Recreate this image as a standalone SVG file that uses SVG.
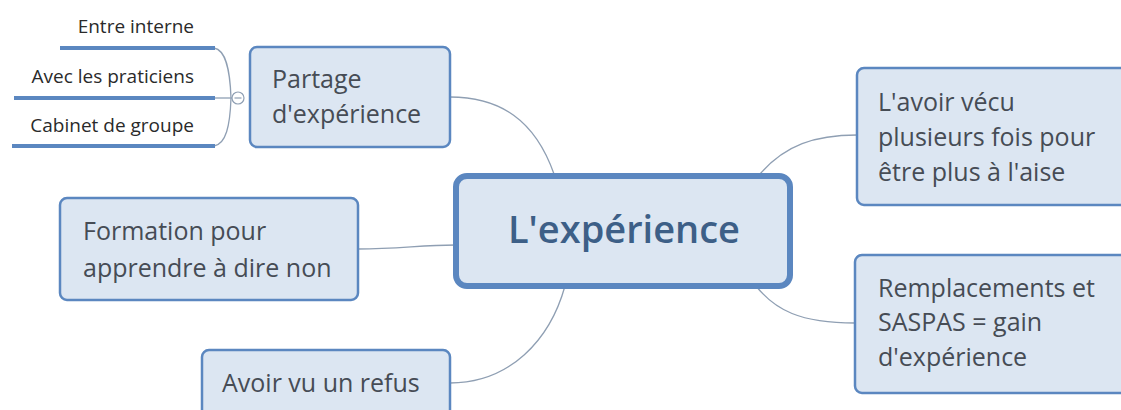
<svg xmlns="http://www.w3.org/2000/svg" width="1121" height="410" viewBox="0 0 1121 410">
<style>
.box{fill:#dce6f2;stroke:#5b87c0;stroke-width:2.5}
.main{fill:#dce6f2;stroke:#5b87c0;stroke-width:6}
.t{font-family:"Open Sans","Noto Sans",sans-serif;font-size:25px;fill:#464c55}
.s{font-family:"Open Sans","Noto Sans",sans-serif;font-size:19px;fill:#2a2a2a;text-anchor:end}
.c{fill:none;stroke:#8f9fb3;stroke-width:1.3}
.u{stroke:#5b87c0;stroke-width:4}
</style>
<rect width="1121" height="410" fill="#ffffff"/>
<g id="connectors">
<path class="c" d="M450,97 C500,97 535,120 554,174"/>
<path class="c" d="M358,249 C400,249 420,245 456,245"/>
<path class="c" d="M450,383 C510,383 550,340 565,286"/>
<path class="c" d="M760,174 C785,145 815,135 857,135"/>
<path class="c" d="M756,286 C775,310 800,323 855,323"/>
<path class="c" d="M214,48 C226,50 230,70 231,98 C230,126 226,144 214,146"/>
<path class="c" d="M214,98 L232,98"/>
</g>
<g id="sub-entre">
<line class="u" x1="60" y1="48" x2="215" y2="48"/>
<text class="s" x="194" y="33">Entre interne</text>
</g>
<g id="sub-avec">
<line class="u" x1="14" y1="98" x2="215" y2="98"/>
<text class="s" x="194" y="83">Avec les praticiens</text>
</g>
<g id="sub-cabinet">
<line class="u" x1="12" y1="146" x2="215" y2="146"/>
<text class="s" x="194" y="132">Cabinet de groupe</text>
</g>
<g id="collapse">
<circle cx="238" cy="98" r="6" fill="#ffffff" stroke="#8f9fb3" stroke-width="1.2"/>
<line x1="234.5" y1="98" x2="241.5" y2="98" stroke="#8f9fb3" stroke-width="1.2"/>
</g>
<g id="partage">
<rect class="box" x="250" y="47" width="200" height="100" rx="7"/>
<text class="t" x="272" y="88">Partage</text>
<text class="t" x="272" y="123">d'expérience</text>
</g>
<g id="central">
<rect class="main" x="456" y="176" width="334" height="110" rx="11"/>
<text x="624" y="243" text-anchor="middle" font-family="'Open Sans','Noto Sans',sans-serif" font-size="38" font-weight="600" fill="#3d5f87">L'expérience</text>
</g>
<g id="formation">
<rect class="box" x="60" y="198" width="298" height="102" rx="7"/>
<text class="t" x="83" y="240">Formation pour</text>
<text class="t" x="83" y="277">apprendre à dire non</text>
</g>
<g id="avoir-vu">
<rect class="box" x="202" y="350" width="248" height="80" rx="7"/>
<text class="t" x="222" y="392">Avoir vu un refus</text>
</g>
<g id="avoir-vecu">
<rect class="box" x="857" y="68" width="280" height="137" rx="7"/>
<text class="t" x="878" y="111">L'avoir vécu</text>
<text class="t" x="878" y="146">plusieurs fois pour</text>
<text class="t" x="878" y="181">être plus à l'aise</text>
</g>
<g id="remplacements">
<rect class="box" x="855" y="255" width="280" height="138" rx="7"/>
<text class="t" x="878" y="297">Remplacements et</text>
<text class="t" x="878" y="331">SASPAS = gain</text>
<text class="t" x="878" y="366">d'expérience</text>
</g>
</svg>
